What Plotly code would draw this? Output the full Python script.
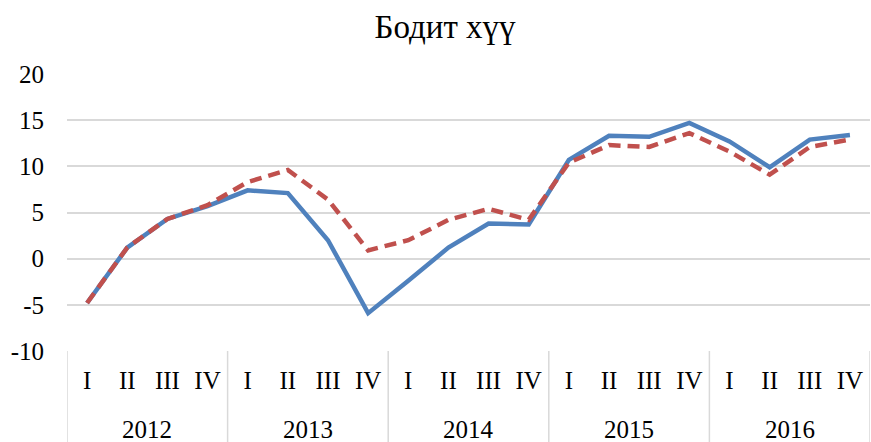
import plotly.graph_objects as go

years = ["2012", "2013", "2014", "2015", "2016"]
quarters = ["I", "II", "III", "IV"]

blue = [-4.8, 1.2, 4.3, 5.7, 7.4, 7.1, 2.0, -5.9, -2.4, 1.2, 3.8, 3.7,
        10.7, 13.3, 13.2, 14.7, 12.7, 9.9, 12.9, 13.4]
red = [-4.8, 1.2, 4.3, 5.8, 8.3, 9.6, 6.4, 0.9, 2.0, 4.2, 5.4, 4.2,
       10.4, 12.3, 12.1, 13.6, 11.6, 9.1, 12.1, 12.9]

y_ticks = [-10, -5, 0, 5, 10, 15, 20]
y_ticktext = ["-10", "-5", "0", "5", "10", "15", "20"]

n_q = len(quarters)
x_idx = list(range(len(years) * n_q))
x_q = [q for y in years for q in quarters]

font_family = "Liberation Serif, Times New Roman, serif"
grid_col = "#d9d9d9"

W, H, T, B = 871, 442, 74, 91
plot_h = H - T - B

fig = go.Figure()
fig.add_trace(go.Scatter(x=x_idx, y=blue, mode="lines",
                         line=dict(color="#4F81BD", width=4.5)))
fig.add_trace(go.Scatter(x=x_idx, y=red, mode="lines",
                         line=dict(color="#C0504D", width=4.5, dash="12px,7px")))

# group dividers and year labels
for gi, yr in enumerate(years + [None]):
    xb = gi * n_q - 0.5
    fig.add_shape(type="line", xref="x", yref="paper", x0=xb, x1=xb,
                  y0=0, y1=-B / plot_h, line=dict(color=grid_col, width=1.5),
                  layer="below")
    if yr is not None:
        fig.add_annotation(x=gi * n_q + (n_q - 1) / 2, xref="x",
                           y=-(429 - (H - B)) / plot_h, yref="paper",
                           yanchor="middle", text=yr, showarrow=False,
                           font=dict(family=font_family, size=25, color="black"))

fig.update_layout(
    width=W, height=H,
    margin=dict(l=67, r=1, t=T, b=B),
    paper_bgcolor="white", plot_bgcolor="white",
    showlegend=False,
    font=dict(family=font_family, size=25, color="black"),
    title=dict(text="Бодит хүү", x=445 / W, xanchor="center", y=1 - 26 / H,
               yanchor="middle", xref="container", yref="container",
               font=dict(family=font_family, size=33, color="black")),
    xaxis=dict(range=[-0.5, len(x_idx) - 0.5], tickmode="array",
               tickvals=x_idx, ticktext=x_q, showgrid=False, zeroline=False,
               showline=False, ticks="", ticklabelstandoff=12,
               tickfont=dict(family=font_family, size=25, color="black")),
    yaxis=dict(range=[-10, 20], tickmode="array", tickvals=y_ticks,
               ticktext=y_ticktext, showgrid=True, gridcolor=grid_col,
               gridwidth=1.5, zeroline=False, showline=False, ticks="",
               ticklabelstandoff=22,
               tickfont=dict(family=font_family, size=25, color="black")),
)
fig.write_html("out.html", config={"displayModeBar": False})

with open("out.html", "r", encoding="utf-8") as f:
    html = f.read()
html = html.replace("<body>", "<body style=\"margin:0;padding:0;overflow:hidden\">", 1)
with open("out.html", "w", encoding="utf-8") as f:
    f.write(html)
